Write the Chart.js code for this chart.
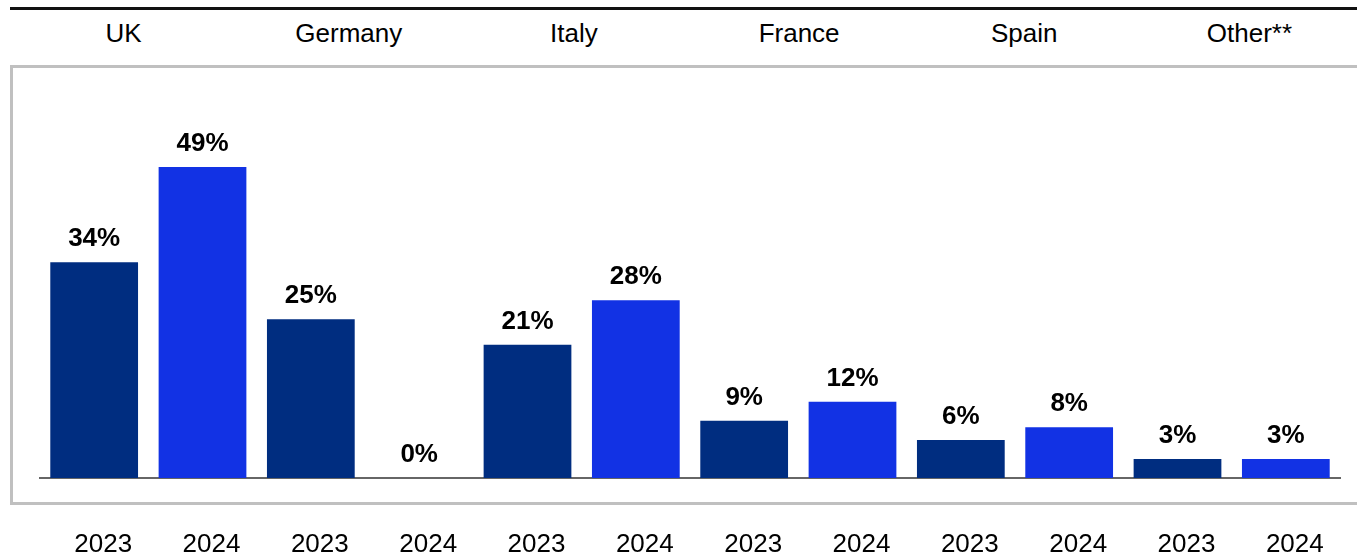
<!DOCTYPE html>
<html>
<head>
<meta charset="utf-8">
<script src="https://cdn.jsdelivr.net/npm/chart.js@4/dist/chart.umd.min.js"></script>
<style>
    html, body {
        margin: 0;
        padding: 0;
        background: #ffffff;
        overflow: hidden;
        font-family: "Liberation Sans", Arial, sans-serif;
    }
    .top-rule {
        position: absolute;
        left: 10px;
        right: 0;
        top: 7px;
        height: 3px;
        background: #111111;
    }
    .country-row {
        position: absolute;
        left: 11px;
        width: 1351px;
        top: 18px;
        height: 30px;
        display: flex;
    }
    .country-row div {
        flex: 1;
        text-align: center;
        font-size: 26px;
        line-height: 30px;
        color: #000000;
    }
    .frame {
        position: absolute;
        left: 10px;
        top: 65px;
        width: 1400px;
        height: 434px;
        border: 3px solid #c0c0c0;
    }
    .chart-wrap {
        position: absolute;
        left: 0;
        top: 0;
        width: 1357px;
        height: 557px;
    }
</style>
</head>
<body>
<div class="top-rule"></div>
<div class="country-row" id="countryRow"></div>
<div class="frame"></div>
<div class="chart-wrap"><canvas id="shareChart"></canvas></div>

<script>
// ----------------------------------------
// data
// ----------------------------------------
const countries = ['UK', 'Germany', 'Italy', 'France', 'Spain', 'Other**'];
const years = ['2023', '2024', '2023', '2024', '2023', '2024', '2023', '2024', '2023', '2024', '2023', '2024'];
const shares = [34, 49, 25, 0, 21, 28, 9, 12, 6, 8, 3, 3];

const DARK_BLUE = '#002d80';
const BRIGHT_BLUE = '#1232e4';
const FONT = "'Liberation Sans', Arial, sans-serif";

// country header row
const row = document.getElementById('countryRow');
countries.forEach(name => {
    const cell = document.createElement('div');
    cell.textContent = name;
    row.appendChild(cell);
});

// percent labels above each bar
const valueLabels = {
    id: 'valueLabels',
    afterDatasetsDraw(chart) {
        const ctx = chart.ctx;
        const meta = chart.getDatasetMeta(0);
        ctx.save();
        ctx.font = 'bold 26px ' + FONT;
        ctx.fillStyle = '#000000';
        ctx.textAlign = 'center';
        ctx.textBaseline = 'alphabetic';
        meta.data.forEach((bar, i) => {
            ctx.fillText(shares[i] + '%', bar.x, bar.y - 16);
        });
        ctx.restore();
    }
};

new Chart(document.getElementById('shareChart'), {
    type: 'bar',
    data: {
        labels: years,
        datasets: [{
            data: shares,
            backgroundColor: years.map(y => y === '2023' ? DARK_BLUE : BRIGHT_BLUE),
            borderWidth: 0,
            barPercentage: 0.81,
            categoryPercentage: 1
        }]
    },
    options: {
        responsive: true,
        maintainAspectRatio: false,
        animation: false,
        layout: {
            padding: { left: 40, right: 17, top: 80, bottom: 0 }
        },
        plugins: {
            legend: { display: false },
            tooltip: { enabled: false }
        },
        scales: {
            x: {
                grid: { display: false, drawTicks: false },
                border: { display: true, color: '#666666', width: 2 },
                ticks: {
                    color: '#000000',
                    font: { family: FONT, size: 26 },
                    padding: 51,
                    labelOffset: 9,
                    maxRotation: 0,
                    autoSkip: false
                },
                afterFit: scale => {
                    // fixed axis band, no extra side padding for overhanging labels
                    scale.height = 79;
                    scale.paddingLeft = 0;
                    scale.paddingRight = 0;
                }
            },
            y: {
                display: false,
                min: 0,
                max: 62.7
            }
        }
    },
    plugins: [valueLabels]
});
</script>
</body>
</html>
